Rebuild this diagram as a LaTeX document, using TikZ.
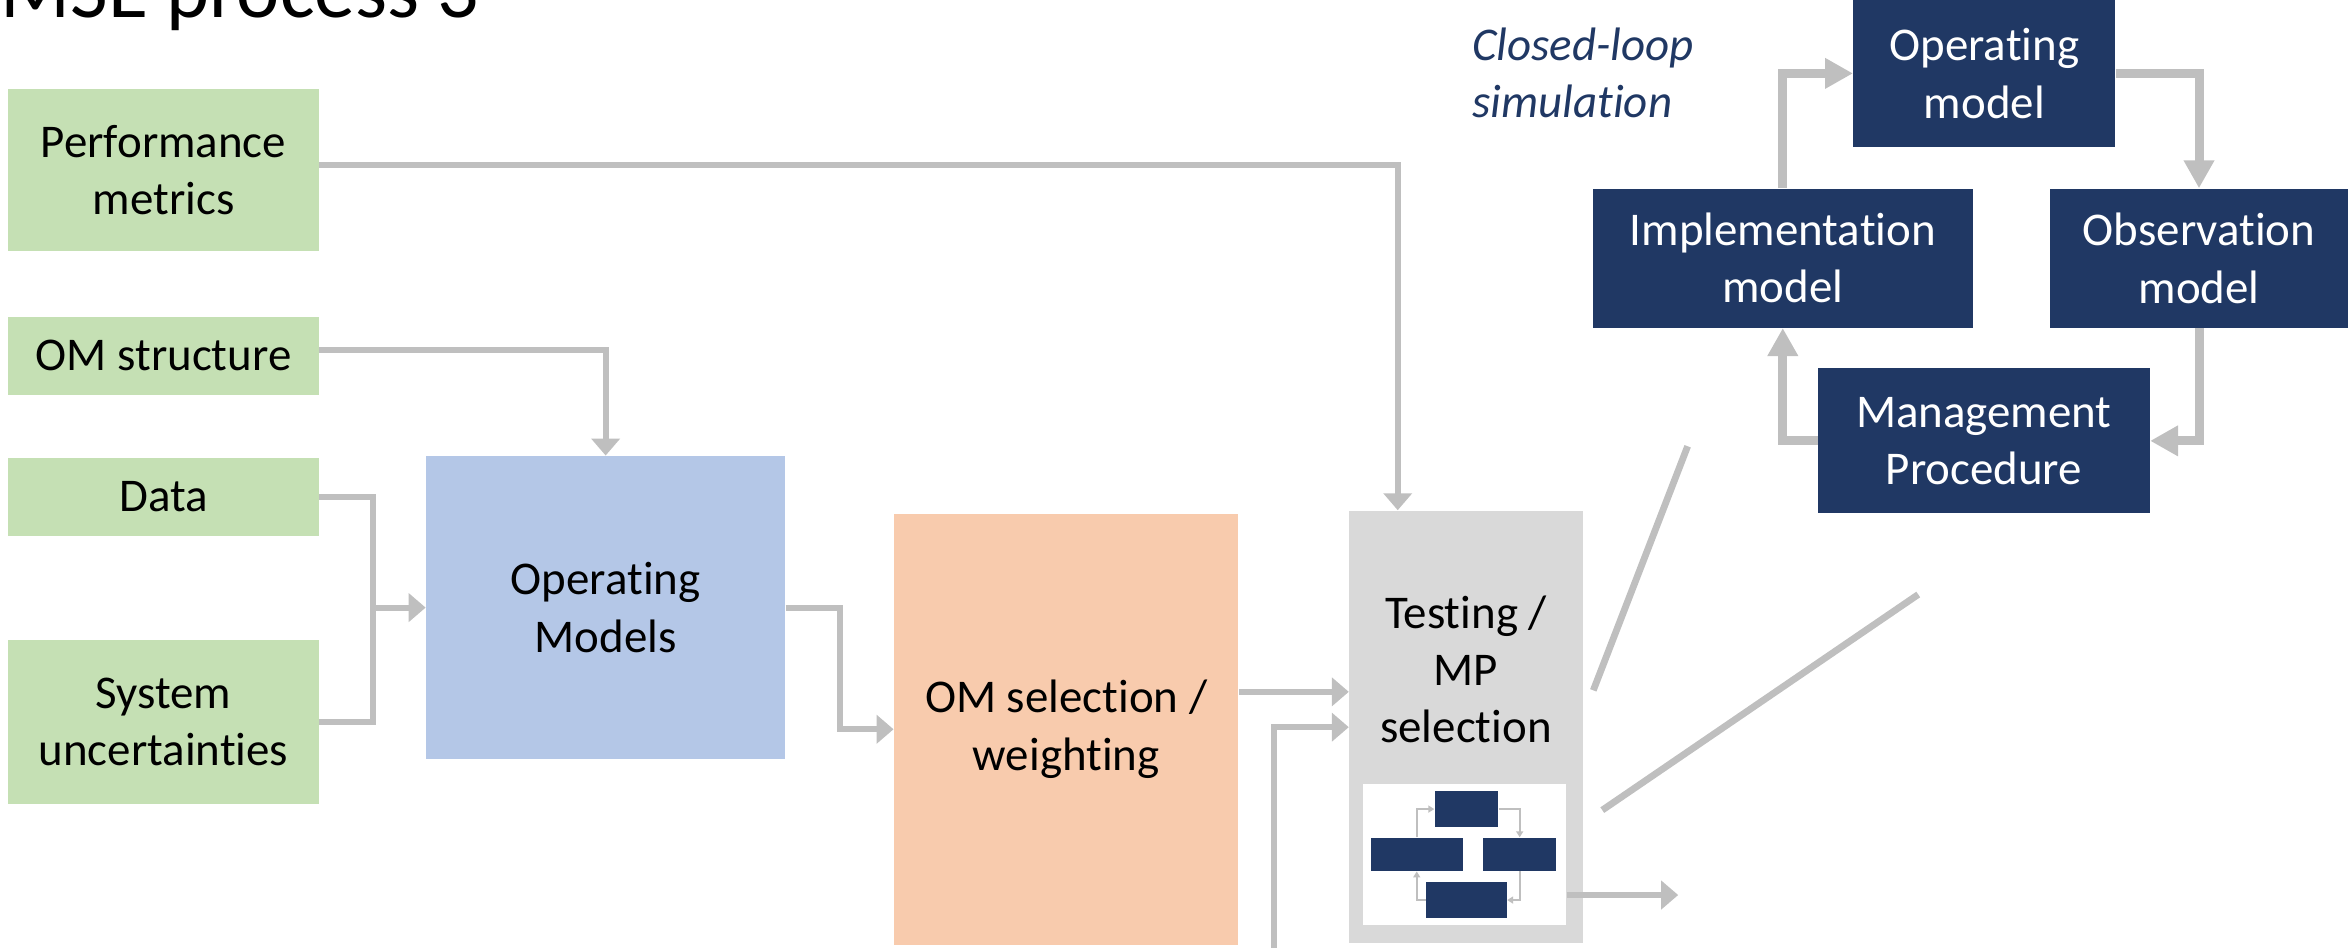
\documentclass[tikz,border=0pt]{standalone}
\usepackage{fontspec}
\setmainfont{Carlito}[Ligatures=NoCommon]
\usetikzlibrary{arrows.meta,calc}
\definecolor{cgreen}{HTML}{C5E0B4}
\definecolor{cblue}{HTML}{B4C7E7}
\definecolor{corange}{HTML}{F8CBAD}
\definecolor{cgraybox}{HTML}{D9D9D9}
\definecolor{cnavy}{HTML}{203864}
\definecolor{cline}{HTML}{BFBFBF}
\newcommand\diagfont{\fontsize{23.5}{28.7}\selectfont}
\begin{document}
\begin{tikzpicture}[x=0.75pt,y=-0.75pt,
  box/.style={inner sep=0pt, align=center, font=\diagfont, text=black},
  navybox/.style={fill=cnavy, inner sep=0pt, align=center, font=\diagfont, text=white},
  minibox/.style={fill=cnavy, inner sep=0pt},
  gl/.style={draw=cline, line width=3pt},
  ga/.style={draw=cline, line width=3pt, -{Triangle[width=14pt,length=8.5pt]}},
  loopa/.style={draw=cline, line width=4.5pt, -{Triangle[width=14.5pt,length=14pt]}},
  minia/.style={draw=cline, line width=0.85pt, -{Triangle[width=3.5pt,length=3pt]}},
  zl/.style={draw=cline, line width=3.4pt}]
\useasboundingbox (0,0) rectangle (1568,633);

% title
\node[anchor=base east, inner sep=0pt, font=\fontsize{41}{49}\selectfont] (title) at (320.5,11.6) {MSE process 3};

% inputs
\node[box, fill=cgreen, minimum width=155.7pt, minimum height=80.9pt] (perf) at (109.2,113.4) {Performance\\metrics};
\node[box, fill=cgreen, minimum width=155.7pt, minimum height=38.8pt] (omstruct) at (109.2,237.65) {OM structure};
\node[box, fill=cgreen, minimum width=155.7pt, minimum height=38.7pt] (data) at (109.2,331.8) {Data};
\node[box, fill=cgreen, minimum width=155.7pt, minimum height=82.1pt] (sysunc) at (109.2,482.25) {System\\uncertainties};

% main blocks
\node[box, fill=cblue, minimum width=179.9pt, minimum height=151.9pt] (opmod) at (404.45,405.75) {Operating\\Models};
\node[box, fill=corange, minimum width=172.5pt, minimum height=216pt] (omsel) at (712,487) {OM selection /\\weighting};
\node[box, fill=cgraybox, minimum width=117pt, minimum height=216.75pt] (test) at (979,485.5) {};
\node[box] (testlbl) at (979,447) {Testing /\\MP\\selection};
\node[fill=white, inner sep=0pt, minimum width=102pt, minimum height=70.8pt] (inset) at (978,570.8) {};

% mini loop
\node[minibox, minimum width=31.9pt, minimum height=17.7pt] (mtop) at (979.35,540.3) {};
\node[minibox, minimum width=46pt, minimum height=16.7pt] (mleft) at (946.1,570.55) {};
\node[minibox, minimum width=36.4pt, minimum height=16.7pt] (mright) at (1014.85,570.55) {};
\node[minibox, minimum width=40.3pt, minimum height=17.8pt] (mbot) at (979.35,601.05) {};
\draw[minia] (mleft.north) |- (mtop.west);
\draw[minia] (mtop.east) -| (mright.north);
\draw[minia] (mright.south) |- (mbot.east);
\draw[minia] (mbot.west) -| (mleft.south);

% connectors
\draw[ga] ([yshift=2.5pt]perf.east) -| ([xshift=-34.2pt]test.north);
\draw[ga] ([yshift=3pt]omstruct.east) -| (opmod.north);
\coordinate (merge) at (249,405.75);
\draw[gl] (data.east) -| (merge) |- (sysunc.east);
\draw[ga] (merge) -- (opmod.west);
\draw[ga] (opmod.east) -| ($(opmod.east)!0.5!(omsel.west)$) |- (omsel.west);
\coordinate (a1) at ([yshift=18.75pt]omsel.east);
\draw[ga] (a1) -- (a1 -| test.west);
\coordinate (bin) at (850.7,640);
\coordinate (binto) at (850.7,485.6);
\draw[ga] (bin) -- (binto) -- (binto -| test.west);
\coordinate (outend) at (1120.7,597.7);
\draw[ga] (outend -| inset.east) -- (outend);

% zoom lines
\coordinate (z1a) at (1064,461);
\coordinate (z1b) at (1127,298);
\coordinate (z2a) at (1070,541);
\coordinate (z2b) at (1281,397);
\draw[zl] (z1a) -- (z1b);
\draw[zl] (z2a) -- (z2b);

% closed loop
\node[anchor=west, inner sep=0pt, align=left, font=\diagfont\itshape, text=cnavy] (cltext) at (983,48.5) {Closed-loop\\simulation};
\node[navybox, minimum width=131.2pt, minimum height=73.5pt] (om2) at (1325.15,49) {Operating\\model};
\node[navybox, minimum width=190.1pt, minimum height=69.7pt] (impl) at (1190.55,172.35) {Implementation\\model};
\node[navybox, minimum width=149.25pt, minimum height=69.75pt] (obs) at (1468.5,172.5) {Observation\\model};
\node[navybox, minimum width=166.2pt, minimum height=72.6pt] (mp) at (1324.8,294.4) {Management\\Procedure};
\draw[loopa] (impl.north) |- (om2.west);
\draw[loopa] (om2.east) -| (obs.north);
\draw[loopa] (obs.south) |- (mp.east);
\draw[loopa] (mp.west) -| (impl.south);
\end{tikzpicture}
\end{document}
